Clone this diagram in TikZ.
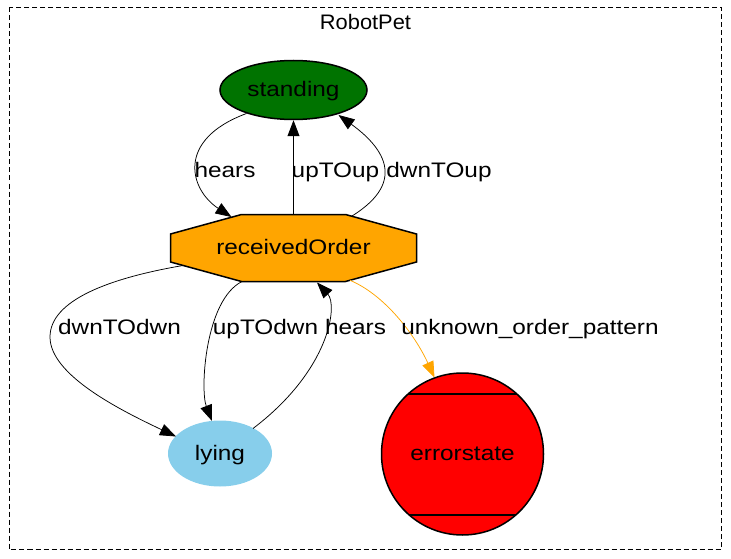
\documentclass[tikz,border=0pt]{standalone}
\usepackage{fontspec}
\setmainfont{Liberation Sans}[FakeStretch=1.16]
\newfontfamily\titlefont{Liberation Sans}[FakeStretch=1.04]
\usetikzlibrary{shapes.geometric,arrows.meta,calc,backgrounds}
\definecolor{dkgreen}{RGB}{0,115,0}
\definecolor{skyb}{RGB}{135,206,235}
\definecolor{orng}{RGB}{255,165,0}
\begin{document}
\begin{tikzpicture}[x=1pt,y=-1pt,
  every node/.style={font=\fontsize{21}{25}\selectfont, inner sep=0pt},
  st/.style={text height=15.5pt,text depth=2pt},
  edge/.style={draw=black, line width=0.75pt, -{Triangle[length=16pt,width=12pt]}},
  lbl/.style={anchor=base},
  brd/.style={line width=1.5pt}
]
\useasboundingbox (0,0) rectangle (731,559);
\draw[dash pattern=on 5pt off 3pt, line width=1pt] (9,7.5) rectangle (721.5,549);
\node[lbl, font=\titlefont\fontsize{21}{25}\selectfont] (title) at (365.5,29.3) {RobotPet};

\node[st, ellipse, draw, brd, fill=dkgreen, minimum width=147pt, minimum height=59pt] (standing) at (293.5,90) {standing};
\node[st, rectangle, minimum width=246pt, minimum height=67pt] (ro) at (293.5,248) {receivedOrder};
\begin{scope}[on background layer]
\draw[fill=orng, brd] ($(ro)+(-52,-33.5)$) -- ($(ro)+(52,-33.5)$) -- ($(ro)+(123,-14)$) -- ($(ro)+(123,14)$) -- ($(ro)+(52,33.5)$) -- ($(ro)+(-52,33.5)$) -- ($(ro)+(-123,14)$) -- ($(ro)+(-123,-14)$) -- cycle;
\end{scope}
\node[st, ellipse, fill=skyb, minimum width=104pt, minimum height=66pt] (lying) at (220,453.5) {lying};
\node[st, circle, draw, brd, fill=red, minimum size=162pt] (err) at (462.5,454) {errorstate};
\draw[brd] ($(err)+(-54.4,-60)$) -- ($(err)+(54.4,-60)$);
\draw[brd] ($(err)+(-53.3,61)$) -- ($(err)+(53.3,61)$);

\draw[edge] ($(standing)+(-47,23.5)$) .. controls (175,140) and (190,190) .. ($(ro)+(-62,-31)$);
\draw[edge] (ro.north) -- (standing.south);
\draw[edge] ($(ro)+(58.5,-32)$) .. controls (410,180) and (380,145) .. ($(standing)+(45,25)$);
\draw[edge] ($(ro)+(-110.5,17.5)$) .. controls (110,278) and (50,300) .. (50,337) .. controls (50,375) and (120,410) .. ($(lying)+(-44,-17)$);
\draw[edge] ($(ro)+(-51.5,33.5)$) .. controls (205,300) and (200,390) .. ($(lying)+(-8,-32.5)$);
\draw[edge] ($(lying)+(33,-25)$) .. controls (330,370) and (338,305) .. ($(ro)+(23.5,34.5)$);
\draw[edge, draw=orng] ($(ro)+(56.5,32.3)$) .. controls (385,295) and (415,335) .. ($(err)+(-28,-76.5)$);

\node[lbl] (l1) at (225,177) {hears};
\node[lbl] (l2) at (335.5,177) {upTOup};
\node[lbl] (l3) at (439,177) {dwnTOup};
\node[lbl] (l4) at (119.5,334) {dwnTOdwn};
\node[lbl] (l5) at (265.5,334) {upTOdwn};
\node[lbl] (l6) at (355.5,334) {hears};
\node[lbl] (l7) at (530,334) {unknown\_order\_pattern};
\end{tikzpicture}
\end{document}
